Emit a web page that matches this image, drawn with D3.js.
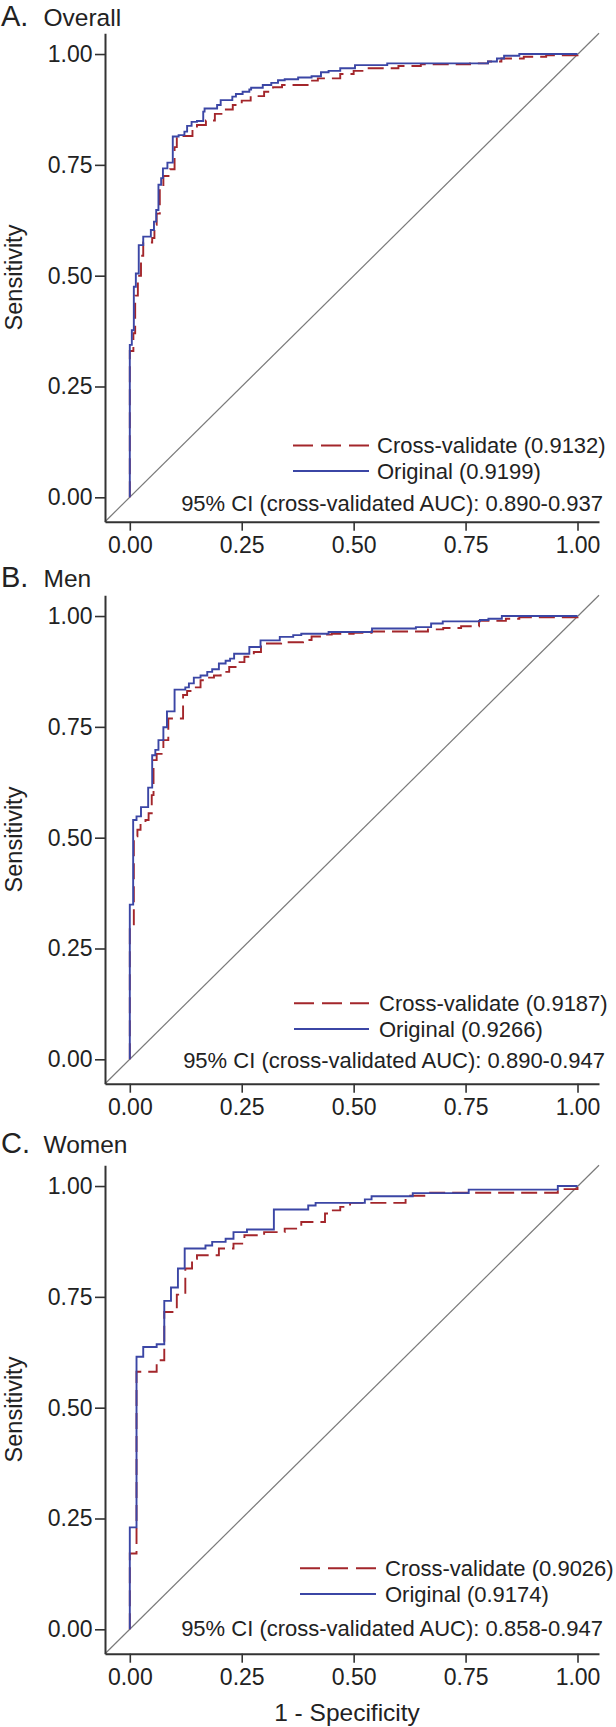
<!DOCTYPE html>
<html><head><meta charset="utf-8">
<script src="https://cdn.jsdelivr.net/npm/d3@7"></script>
<style>
body{margin:0;background:#fff}
svg{display:block}
text{font-family:"Liberation Sans",Arial,Helvetica,sans-serif;fill:#222}
</style>
</head><body>
<svg id="chart" width="616" height="1727"></svg>
<script>
// ---------- data ----------
const panelLetters = ["A.", "B.", "C."];
const panelNames = ["Overall", "Men", "Women"];
const aucCross = ["0.9132", "0.9187", "0.9026"];
const aucOrig = ["0.9199", "0.9266", "0.9174"];
const ciRange = ["0.890-0.937", "0.890-0.947", "0.858-0.947"];
const tickValues = [0, 0.25, 0.5, 0.75, 1];
const tickLabels = ["0.00", "0.25", "0.50", "0.75", "1.00"];

// ROC step points (1 - specificity, sensitivity): the curve rises to y at x
const overallOrigX = [0, 0, 0.0045, 0.009, 0.0135, 0.02, 0.03, 0.047, 0.054, 0.059, 0.064, 0.07, 0.074, 0.084, 0.096, 0.109, 0.122, 0.128, 0.138, 0.15, 0.164, 0.167, 0.195, 0.203, 0.229, 0.237, 0.252, 0.267, 0.271, 0.297, 0.316, 0.331, 0.346, 0.376, 0.406, 0.427, 0.444, 0.47, 0.503, 0.575, 0.80, 0.82, 0.836, 0.87, 1.0];
const overallOrigY = [0, 0.344, 0.377, 0.475, 0.505, 0.569, 0.588, 0.603, 0.622, 0.648, 0.705, 0.72, 0.742, 0.755, 0.814, 0.817, 0.825, 0.838, 0.847, 0.849, 0.87, 0.877, 0.885, 0.896, 0.904, 0.91, 0.915, 0.92, 0.924, 0.93, 0.935, 0.941, 0.943, 0.947, 0.95, 0.959, 0.962, 0.968, 0.975, 0.979, 0.983, 0.99, 0.996, 1.0, 1.0];
const overallCrossX = [0, 0, 0.008, 0.012, 0.018, 0.025, 0.03, 0.05, 0.055, 0.06, 0.067, 0.075, 0.09, 0.1, 0.105, 0.12, 0.14, 0.15, 0.17, 0.19, 0.21, 0.23, 0.25, 0.27, 0.3, 0.32, 0.34, 0.4, 0.42, 0.47, 0.5, 0.53, 0.6, 0.65, 0.76, 0.8, 0.83, 0.88, 0.93, 1.0];
const overallCrossY = [0, 0.33, 0.37, 0.455, 0.5, 0.545, 0.575, 0.585, 0.615, 0.64, 0.70, 0.725, 0.74, 0.79, 0.81, 0.815, 0.83, 0.84, 0.85, 0.865, 0.875, 0.885, 0.895, 0.905, 0.915, 0.925, 0.93, 0.94, 0.945, 0.955, 0.962, 0.968, 0.973, 0.977, 0.979, 0.983, 0.99, 0.994, 0.997, 1.0];

const menOrigX = [0, 0, 0.0075, 0.015, 0.025, 0.041, 0.05, 0.057, 0.064, 0.075, 0.083, 0.10, 0.124, 0.132, 0.143, 0.158, 0.173, 0.184, 0.199, 0.214, 0.224, 0.233, 0.267, 0.292, 0.335, 0.365, 0.383, 0.444, 0.541, 0.639, 0.673, 0.699, 0.782, 0.801, 0.831, 1.0];
const menOrigY = [0, 0.349, 0.54, 0.548, 0.569, 0.613, 0.686, 0.698, 0.72, 0.749, 0.785, 0.834, 0.839, 0.848, 0.861, 0.866, 0.874, 0.88, 0.893, 0.899, 0.904, 0.915, 0.93, 0.945, 0.953, 0.957, 0.96, 0.964, 0.972, 0.975, 0.983, 0.988, 0.991, 0.994, 1.0, 1.0];
const menCrossX = [0, 0, 0.009, 0.017, 0.024, 0.035, 0.042, 0.049, 0.053, 0.06, 0.071, 0.075, 0.086, 0.119, 0.128, 0.143, 0.158, 0.17, 0.188, 0.203, 0.222, 0.241, 0.256, 0.277, 0.293, 0.338, 0.387, 0.406, 0.429, 0.451, 0.50, 0.54, 0.666, 0.70, 0.74, 0.78, 0.84, 0.87, 1.0];
const menCrossY = [0, 0.296, 0.503, 0.518, 0.531, 0.54, 0.555, 0.596, 0.675, 0.689, 0.701, 0.72, 0.769, 0.822, 0.831, 0.839, 0.855, 0.861, 0.866, 0.874, 0.885, 0.896, 0.908, 0.919, 0.938, 0.941, 0.946, 0.954, 0.958, 0.96, 0.962, 0.965, 0.97, 0.973, 0.977, 0.989, 0.994, 0.997, 1.0];

const womenOrigX = [0, 0, 0.015, 0.03, 0.06, 0.077, 0.092, 0.1075, 0.1226, 0.169, 0.184, 0.214, 0.2316, 0.2617, 0.3218, 0.3985, 0.415, 0.525, 0.54, 0.632, 0.757, 0.956, 1.0];
const womenOrigY = [0, 0.23, 0.615, 0.637, 0.643, 0.741, 0.771, 0.814, 0.859, 0.866, 0.874, 0.881, 0.896, 0.902, 0.947, 0.956, 0.962, 0.97, 0.977, 0.984, 0.992, 1.0, 1.0];
const womenCrossX = [0, 0, 0.015, 0.06, 0.077, 0.105, 0.124, 0.139, 0.15, 0.199, 0.2316, 0.256, 0.30, 0.346, 0.383, 0.436, 0.45, 0.47, 0.492, 0.616, 0.66, 0.956, 1.0];
const womenCrossY = [0, 0.171, 0.581, 0.607, 0.716, 0.755, 0.814, 0.836, 0.844, 0.859, 0.87, 0.889, 0.896, 0.904, 0.919, 0.938, 0.945, 0.953, 0.962, 0.978, 0.985, 0.993, 1.0];

// ---------- layout ----------
const origSeries = [[overallOrigX, overallOrigY], [menOrigX, menOrigY], [womenOrigX, womenOrigY]];
const crossSeries = [[overallCrossX, overallCrossY], [menCrossX, menCrossY], [womenCrossX, womenCrossY]];
const offsets = [0, 562, 1132];
const titleBase = [26, 587, 1153];
const legLineX0 = [293, 294, 300], legLineX1 = [369, 369, 376], legTextX = [377, 379, 385];
const legRow1 = [445.5, 441.3, 436.3], legRow2 = [471, 467, 462], ciMid = [503.3, 498, 496.3], ciEnd = [603, 605, 603];
const BLUE = "#3b46a5", RED = "#a3262b", AX = "#333";
const xDomain = [-0.0554, 1.048];
const yDomain = [-0.055, 1.047];
const LEFT = 105, RIGHT = 599;

const svg = d3.select("#chart");

for (let p = 0; p < 3; p++) {
  const off = offsets[p];
  const x = d3.scaleLinear().domain(xDomain).range([LEFT, RIGHT]);
  const y = d3.scaleLinear().domain(yDomain).range([off + 521.7, off + 33.2]);
  const g = svg.append("g");

  // title
  g.append("text").attr("x", 1).attr("y", titleBase[p]).attr("font-size", 29).text(panelLetters[p]);
  g.append("text").attr("x", 43.5).attr("y", titleBase[p]).attr("font-size", 24.5).text(panelNames[p]);

  // diagonal reference line across the plot region
  g.append("line")
    .attr("x1", LEFT).attr("y1", y(yDomain[0]))
    .attr("x2", RIGHT).attr("y2", y(yDomain[1]))
    .attr("stroke", "#7a7a7a").attr("stroke-width", 1.2);

  // curves
  const line = d3.line().x(d => x(d[0])).y(d => y(d[1])).curve(d3.curveStepAfter);
  const cr = crossSeries[p][0].map((v, i) => [v, crossSeries[p][1][i]]);
  const or = origSeries[p][0].map((v, i) => [v, origSeries[p][1][i]]);
  g.append("path").attr("d", line(cr)).attr("fill", "none")
    .attr("stroke", RED).attr("stroke-width", 1.9).attr("stroke-dasharray", "16,7");
  g.append("path").attr("d", line(or)).attr("fill", "none")
    .attr("stroke", BLUE).attr("stroke-width", 1.9);

  // axes
  const ya = g.append("g").attr("transform", `translate(${LEFT},0)`)
    .call(d3.axisLeft(y).tickValues(tickValues).tickFormat((d, i) => tickLabels[i]).tickSize(10).tickSizeOuter(0).tickPadding(2.5));
  const xa = g.append("g").attr("transform", `translate(0,${off + 521.7})`)
    .call(d3.axisBottom(x).tickValues(tickValues).tickFormat((d, i) => tickLabels[i]).tickSize(9).tickSizeOuter(0).tickPadding(6));
  [ya, xa].forEach(a => {
    a.select(".domain").attr("stroke", AX).attr("stroke-width", 2);
    a.selectAll(".tick line").attr("stroke", AX).attr("stroke-width", 1.6);
    a.selectAll(".tick text").attr("font-size", 23).attr("fill", "#222")
      .attr("font-family", '"Liberation Sans",Arial,sans-serif');
  });

  // y axis title
  g.append("text").attr("transform", `translate(22,${off + 277.5}) rotate(-90)`)
    .attr("text-anchor", "middle").attr("font-size", 23.5).text("Sensitivity");

  // legend
  g.append("line").attr("x1", legLineX0[p]).attr("x2", legLineX1[p])
    .attr("y1", off + legRow1[p]).attr("y2", off + legRow1[p])
    .attr("stroke", RED).attr("stroke-width", 1.9).attr("stroke-dasharray", "20,8");
  g.append("text").attr("x", legTextX[p]).attr("y", off + legRow1[p] + 7.6)
    .attr("font-size", 22).text(`Cross-validate (${aucCross[p]})`);
  g.append("line").attr("x1", legLineX0[p]).attr("x2", legLineX1[p])
    .attr("y1", off + legRow2[p]).attr("y2", off + legRow2[p])
    .attr("stroke", BLUE).attr("stroke-width", 1.9);
  g.append("text").attr("x", legTextX[p]).attr("y", off + legRow2[p] + 7.6)
    .attr("font-size", 22).text(`Original (${aucOrig[p]})`);
  g.append("text").attr("x", ciEnd[p]).attr("y", off + ciMid[p] + 7.6)
    .attr("text-anchor", "end").attr("font-size", 22)
    .text(`95% CI (cross-validated AUC): ${ciRange[p]}`);

  if (p === 2) {
    g.append("text").attr("x", 347).attr("y", 1721)
      .attr("text-anchor", "middle").attr("font-size", 24.5).text("1 - Specificity");
  }
}
</script>
</body></html>
